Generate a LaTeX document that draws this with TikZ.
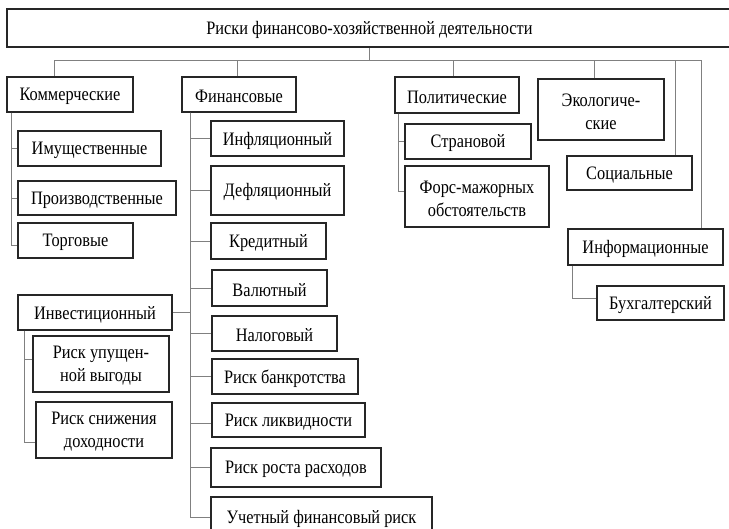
\documentclass[tikz,border=0pt]{standalone}
\usepackage{fontspec}
\setmainfont[FakeStretch=0.86]{Liberation Serif}
\begin{document}
\begin{tikzpicture}[x=1pt,y=-1pt,
  bx/.style={draw=black!85,line width=1.1pt,inner sep=0pt},
  lbl/.style={inner sep=0pt,align=center,yshift=-2pt,font=\fontsize{19}{23}\selectfont},
  ln/.style={draw=black!50,line width=0.9pt}]
\useasboundingbox (0,0) rectangle (729,528);
\newcommand\bx[6]{\node[bx,minimum width={#4-#2},minimum height={#5-#3},label={[lbl]center:{#6}}] (#1) at ({(#2+#4)/2},{(#3+#5)/2}) {};}
\bx{top}{7}{9}{732}{47}{Риски финансово-хозяйственной деятельности}
\bx{kom}{7}{77}{133}{112}{Коммерческие}
\bx{im}{18}{131}{161}{166}{Имущественные}
\bx{pr}{18}{181}{176}{215}{Производственные}
\bx{tor}{18}{223}{133}{258}{Торговые}
\bx{inv}{18}{295}{172}{330}{Инвестиционный}
\bx{rup}{33}{336}{169}{392}{Риск упущен-\\ной выгоды}
\bx{rsn}{36}{402}{172}{458}{Риск снижения\\доходности}
\bx{fin}{182}{77}{296}{112}{Финансовые}
\bx{inf}{211}{121}{344}{156}{Инфляционный}
\bx{def}{211}{166}{344}{215}{\raisebox{6pt}{Дефляционный}}
\bx{kre}{211}{223}{326}{259}{Кредитный}
\bx{val}{212}{270}{327}{306}{Валютный}
\bx{nal}{212}{316}{337}{351}{Налоговый}
\bx{rba}{212}{359}{358}{394}{Риск банкротства}
\bx{rli}{212}{403}{365}{437}{Риск ликвидности}
\bx{rro}{211}{448}{381}{487}{Риск роста расходов}
\bx{uch}{211}{497}{432}{537}{Учетный финансовый риск}
\bx{pol}{395}{77}{519}{113}{Политические}
\bx{str}{405}{124}{531}{159}{Страновой}
\bx{fm}{405}{166}{549}{227}{Форс-мажорных\\обстоятельств}
\bx{eco}{538}{79}{664}{140}{Экологиче-\\ские}
\bx{soc}{567}{156}{692}{190}{Социальные}
\bx{info}{568}{229}{723}{265}{Информационные}
\bx{bux}{597}{286}{724}{320}{Бухгалтерский}
% bus
\coordinate (busL) at (54,60);
\coordinate (busR) at (701,60);
\draw[ln] (top.south) -- (top.south |- busL);
\draw[ln] (busL) -- (busR);
\draw[ln] (busL) -- (busL |- kom.north);
\draw[ln] ([xshift=-2pt]fin.north) -- ([xshift=-2pt]fin.north |- busL);
\draw[ln] ([xshift=-4pt]pol.north) -- ([xshift=-4pt]pol.north |- busL);
\draw[ln] ([xshift=-7pt]eco.north) -- ([xshift=-7pt]eco.north |- busL);
\coordinate (socx) at (675,60);
\draw[ln] (socx) -- (socx |- soc.north);
\draw[ln] (busR) -- (busR |- info.north);
% commercial
\coordinate (kombr) at ([xshift=5pt]kom.south west);
\draw[ln] (kombr) |- (im.west);
\draw[ln] (kombr) |- (pr.west);
\draw[ln] (kombr) |- ([yshift=-5pt]tor.west);
% financial
\coordinate (finbr) at ([xshift=9pt]fin.south west);
\draw[ln] (finbr) |- (inf.west);
\draw[ln] (finbr) |- (def.west);
\draw[ln] (finbr) |- (kre.west);
\draw[ln] (finbr) |- (val.west);
\draw[ln] (finbr) |- (nal.west);
\draw[ln] (finbr) |- (rba.west);
\draw[ln] (finbr) |- ([yshift=-3pt]rli.west);
\draw[ln] (finbr) |- (rro.west);
\draw[ln] (finbr) |- (uch.west);
\draw[ln] (inv.east) -- (inv.east -| finbr);
% investment
\coordinate (invbr) at ([xshift=7pt]inv.south west);
\draw[ln] (invbr) |- ([yshift=5pt]rup.west);
\draw[ln] (invbr) |- ([yshift=-12pt]rsn.west);
% political
\coordinate (polbr) at ([xshift=4pt]pol.south west);
\draw[ln] (polbr) |- (str.west);
\draw[ln] (polbr) |- ([yshift=5pt]fm.west);
% info
\draw[ln] ([xshift=5pt]info.south west) |- ([yshift=5pt]bux.west);
\end{tikzpicture}
\end{document}
